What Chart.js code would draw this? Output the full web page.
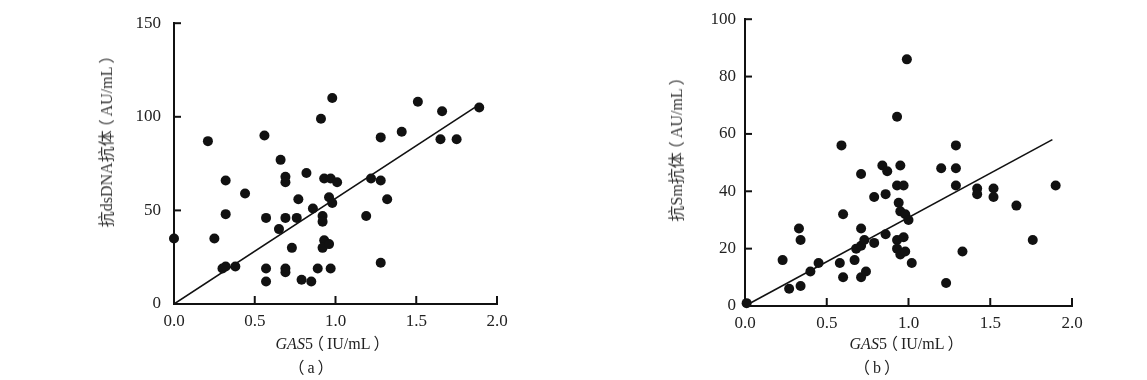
<!DOCTYPE html>
<html><head><meta charset="utf-8">
<script src="https://cdn.jsdelivr.net/npm/chart.js@4/dist/chart.umd.min.js"></script>
<style>
html,body{margin:0;padding:0;background:#fff;width:1147px;height:380px;overflow:hidden;position:relative;}
.cv{position:absolute;top:0;height:380px;}
.t{position:absolute;white-space:nowrap;color:#222;font-family:"Liberation Serif","Noto Sans CJK SC",serif;font-size:16px;line-height:1;transform:translate(-50%,-50%);}
.rot{transform:translate(-50%,-50%) rotate(-90deg);color:#333;}
.po{display:inline-block;margin-left:-5px;margin-right:3px;}
.pc{display:inline-block;margin-left:3px;margin-right:-5px;}
</style></head><body>
<div class="cv" style="left:0;width:560px"><canvas id="c1" width="560" height="380"></canvas></div>
<div class="cv" style="left:560px;width:587px"><canvas id="c2" width="587" height="380"></canvas></div>
<div class="t rot" style="left:107px;top:140px">抗dsDNA抗体<span class="po">（</span>AU/mL<span class="pc">）</span></div>
<div class="t" style="left:330px;top:344px"><i>GAS</i>5<span class="po">（</span>IU/mL<span class="pc">）</span></div>
<div class="t" style="left:311px;top:368px"><span class="po">（</span>a<span class="pc">）</span></div>
<div class="t rot" style="left:677px;top:148px">抗Sm抗体<span class="po">（</span>AU/mL<span class="pc">）</span></div>
<div class="t" style="left:904px;top:344px"><i>GAS</i>5<span class="po">（</span>IU/mL<span class="pc">）</span></div>
<div class="t" style="left:877px;top:368px"><span class="po">（</span>b<span class="pc">）</span></div>
<script>
// ---- data ----
const xTickVals = [0, 0.5, 1, 1.5, 2];
const xTickLabels = ['0.0', '0.5', '1.0', '1.5', '2.0'];
const leftYTicks = [0, 50, 100, 150];
const rightYTicks = [0, 20, 40, 60, 80, 100];

const leftX = [0.00,0.21,0.25,0.32,0.32,0.30,0.32,0.38,0.44,0.56,0.57,0.57,0.57,0.65,0.66,0.69,0.69,0.69,0.69,0.69,0.73,0.76,0.77,0.79,0.82,0.85,0.86,0.89,0.91,0.92,0.92,0.93,0.93,0.92,0.96,0.97,0.98,0.97,0.98,0.96,1.01,1.19,1.22,1.28,1.28,1.28,1.32,1.41,1.51,1.66,1.65,1.75,1.89];
const leftY = [35,87,35,66,48,19,20,20,59,90,46,19,12,40,77,68,65,46,19,17,30,46,56,13,70,12,51,19,99,47,44,67,34,30,57,67,110,19,54,32,65,47,67,22,89,66,56,92,108,103,88,88,105];
const leftFitX = [0, 1.88];
const leftFitY = [0, 106];

const rightX = [0.01,0.23,0.27,0.33,0.34,0.34,0.40,0.45,0.58,0.59,0.60,0.60,0.67,0.68,0.71,0.71,0.71,0.71,0.73,0.74,0.79,0.79,0.84,0.86,0.86,0.87,0.93,0.93,0.93,0.93,0.95,0.94,0.95,0.95,0.97,0.97,0.99,0.98,1.00,0.98,1.02,1.20,1.23,1.29,1.29,1.29,1.33,1.42,1.42,1.52,1.52,1.66,1.76,1.90];
const rightY = [1,16,6,27,23,7,12,15,15,56,32,10,16,20,46,27,21,10,23,12,22,38,49,39,25,47,66,23,20,42,49,36,33,18,42,24,86,32,30,19,15,48,8,56,48,42,19,41,39,41,38,35,23,42];
const rightFitX = [0, 1.88];
const rightFitY = [0, 58];

// ---- helpers ----
const zip = (xs, ys) => xs.map((x, i) => ({x, y: ys[i]}));
const inwardTicks = {
  id: 'inwardTicks',
  afterDraw(chart) {
    const {ctx, chartArea: a, scales: {x, y}} = chart;
    ctx.save();
    ctx.strokeStyle = '#111';
    ctx.lineWidth = 2;
    x.ticks.forEach(t => {
      const px = x.getPixelForValue(t.value);
      ctx.beginPath(); ctx.moveTo(px, a.bottom); ctx.lineTo(px, a.bottom - 8); ctx.stroke();
    });
    y.ticks.forEach(t => {
      const py = y.getPixelForValue(t.value);
      ctx.beginPath(); ctx.moveTo(a.left, py); ctx.lineTo(a.left + 7, py); ctx.stroke();
    });
    ctx.restore();
  }
};
const tickFont = {family: 'Liberation Serif', size: 17};

function makeChart(id, xs, ys, fx, fy, yTicks, cfg) {
  new Chart(document.getElementById(id), {
    type: 'scatter',
    data: {
      datasets: [
        {data: zip(xs, ys), backgroundColor: '#111', borderColor: '#111', pointRadius: 5, pointBorderWidth: 0, clip: false},
        {data: zip(fx, fy), showLine: true, borderColor: '#111', borderWidth: 1.6, pointRadius: 0, fill: false}
      ]
    },
    options: {
      responsive: false, animation: false, events: [],
      layout: {padding: {left: 0, right: cfg.padRight, top: cfg.padTop, bottom: 0}},
      plugins: {legend: {display: false}, tooltip: {enabled: false}},
      scales: {
        x: {
          type: 'linear', min: 0, max: 2,
          afterBuildTicks(s) { s.ticks = xTickVals.map(v => ({value: v})); },
          afterFit(s) { s.height = cfg.xH; },
          ticks: {callback: (v, i) => xTickLabels[i], color: '#222', font: tickFont, padding: 7, maxRotation: 0, autoSkip: false},
          grid: {display: false, drawTicks: false},
          border: {display: true, color: '#111', width: 2}
        },
        y: {
          type: 'linear', min: yTicks[0], max: yTicks[yTicks.length - 1],
          afterBuildTicks(s) { s.ticks = yTicks.map(v => ({value: v})); },
          afterFit(s) { s.width = cfg.yW; },
          ticks: {callback: (v, i) => String(yTicks[i]), color: '#222', font: tickFont, padding: cfg.yPad, autoSkip: false},
          grid: {display: false, drawTicks: false},
          border: {display: true, color: '#111', width: 2}
        }
      }
    },
    plugins: [inwardTicks]
  });
}

makeChart('c1', leftX, leftY, leftFitX, leftFitY, leftYTicks, {padRight: 63, padTop: 23, xH: 76, yW: 174, yPad: 13});
makeChart('c2', rightX, rightY, rightFitX, rightFitY, rightYTicks, {padRight: 75, padTop: 18, xH: 74, yW: 185, yPad: 9});
</script>
</body></html>
